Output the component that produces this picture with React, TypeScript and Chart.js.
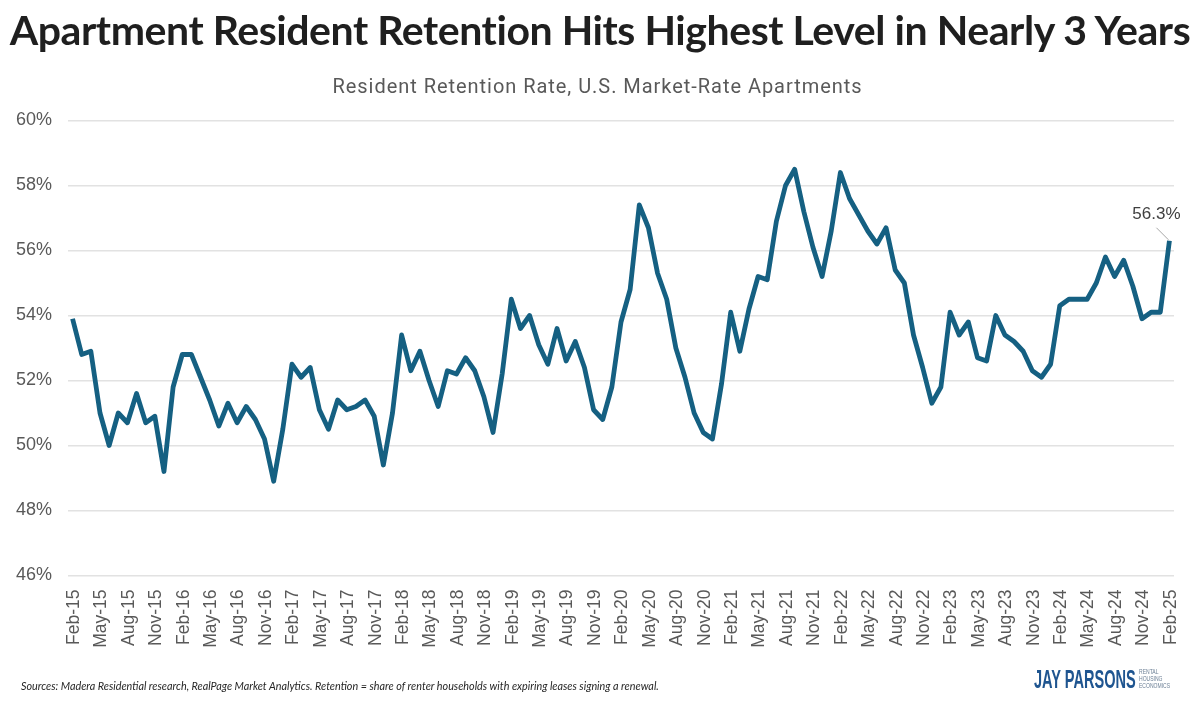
import React, { useEffect, useRef } from "react";
import { Chart, registerables } from "chart.js";

Chart.register(...registerables);

const TITLE = "Apartment Resident Retention Hits Highest Level in Nearly 3 Years";
const SUBTITLE = "Resident Retention Rate, U.S. Market-Rate Apartments";
const FOOTNOTE = "Sources: Madera Residential research, RealPage Market Analytics. Retention = share of renter households with expiring leases signing a renewal.";
const MONTHS = ["Jan", "Feb", "Mar", "Apr", "May", "Jun", "Jul", "Aug", "Sep", "Oct", "Nov", "Dec"];
const YEARS = ["15", "16", "17", "18", "19", "20", "21", "22", "23", "24", "25"];
const labels: string[] = [];
YEARS.forEach((y) => MONTHS.forEach((m) => labels.push(`${m}-${y}`)));
const categories = labels.slice(1, 122);

const v2015 = [53.9, 52.8, 52.9, 51.0, 50.0, 51.0, 50.7, 51.6, 50.7, 50.9, 49.2];
const v2016 = [51.8, 52.8, 52.8, 52.1, 51.4, 50.6, 51.3, 50.7, 51.2, 50.8, 50.2, 48.9];
const v2017 = [50.5, 52.5, 52.1, 52.4, 51.1, 50.5, 51.4, 51.1, 51.2, 51.4, 50.9, 49.4];
const v2018 = [51.0, 53.4, 52.3, 52.9, 52.0, 51.2, 52.3, 52.2, 52.7, 52.3, 51.5, 50.4];
const v2019 = [52.2, 54.5, 53.6, 54.0, 53.1, 52.5, 53.6, 52.6, 53.2, 52.4, 51.1, 50.8];
const v2020 = [51.8, 53.8, 54.8, 57.4, 56.7, 55.3, 54.5, 53.0, 52.1, 51.0, 50.4, 50.2];
const v2021 = [51.9, 54.1, 52.9, 54.2, 55.2, 55.1, 56.9, 58.0, 58.5, 57.2, 56.1, 55.2];
const v2022 = [56.6, 58.4, 57.6, 57.1, 56.6, 56.2, 56.7, 55.4, 55.0, 53.4, 52.4, 51.3];
const v2023 = [51.8, 54.1, 53.4, 53.8, 52.7, 52.6, 54.0, 53.4, 53.2, 52.9, 52.3, 52.1];
const v2024 = [52.5, 54.3, 54.5, 54.5, 54.5, 55.0, 55.8, 55.2, 55.7, 54.9, 53.9, 54.1];
const v2025 = [54.1, 56.3];
const retention = [...v2015, ...v2016, ...v2017, ...v2018, ...v2019, ...v2020, ...v2021, ...v2022, ...v2023, ...v2024, ...v2025];

const lastLabel = {
  id: "lastLabel",
  afterDatasetsDraw(chart: any) {
    const { ctx, scales } = chart;
    const i = retention.length - 1;
    const x = scales.x.getPixelForValue(i);
    const y = scales.y.getPixelForValue(retention[i]);
    ctx.save();
    ctx.strokeStyle = "#a6a6a6";
    ctx.lineWidth = 1;
    ctx.beginPath();
    ctx.moveTo(x - 1, y - 1);
    ctx.lineTo(x - 13, y - 13);
    ctx.stroke();
    ctx.fillStyle = "#404040";
    ctx.font = "17px 'Liberation Sans'";
    ctx.textAlign = "center";
    ctx.textBaseline = "middle";
    ctx.fillText("56.3%", x - 13, y - 26);
    ctx.restore();
  },
};

export default function App() {
  const ref = useRef<HTMLCanvasElement>(null);
  useEffect(() => {
    document.body.style.margin = "0";
    document.body.style.background = "#fff";
    const chart = new Chart(ref.current!, {
      type: "line",
      data: {
        labels: categories,
        datasets: [
          {
            label: "Retention",
            data: retention,
            borderColor: "#156082",
            borderWidth: 4.8,
            pointRadius: 0,
            tension: 0,
            borderJoinStyle: "round",
          },
        ],
      },
      options: {
        animation: false,
        responsive: false,
        layout: { padding: { top: 120.5, right: 26, left: 0, bottom: 0 } },
        plugins: {
          legend: { display: false },
          tooltip: { enabled: false },
          title: { display: false },
          subtitle: { display: false },
        },
        scales: {
          x: {
            offset: true,
            afterFit(s: any) {
              s.height = 125.5;
            },
            grid: { display: false },
            border: { display: false },
            ticks: {
              autoSkip: false,
              minRotation: 90,
              maxRotation: 90,
              padding: 6,
              labelOffset: 1.5,
              color: "#595959",
              font: { family: "Liberation Sans", size: 17.5 },
              callback(_v: any, i: number) {
                return i % 3 === 0 ? categories[i] : "";
              },
            },
          },
          y: {
            min: 46,
            max: 60,
            afterFit(s: any) {
              s.width = 68;
            },
            grid: { color: "#e2e2e2", lineWidth: 1.5, drawTicks: false },
            border: { display: false },
            ticks: {
              stepSize: 2,
              padding: 16,
              color: "#595959",
              font: { family: "Liberation Sans", size: 18 },
              callback: (v: any) => `${v}%`,
            },
          },
        },
      },
      plugins: [lastLabel],
    } as any);
    return () => chart.destroy();
  }, []);

  return (
    <div style={{ position: "relative", width: 1200, height: 701, overflow: "hidden" }}>
      <canvas ref={ref} width={1200} height={701} style={{ display: "block" }} />
      <div
        style={{
          position: "absolute",
          left: 0,
          width: 1200,
          top: 5,
          textAlign: "center",
          fontFamily: "Lato",
          fontWeight: "bold",
          fontSize: 41,
          letterSpacing: "-0.44px",
          lineHeight: "50px",
          fontVariantLigatures: "none",
          color: "#1f1f1f",
          whiteSpace: "nowrap",
        }}
      >
        {TITLE}
      </div>
      <div
        style={{
          position: "absolute",
          left: 0,
          width: 1195,
          top: 73,
          textAlign: "center",
          fontFamily: "Roboto",
          fontSize: 20,
          lineHeight: "26px",
          letterSpacing: "0.96px",
          color: "#595959",
          whiteSpace: "nowrap",
        }}
      >
        {SUBTITLE}
      </div>
      <div
        style={{
          position: "absolute",
          left: 21,
          top: 679,
          fontFamily: "Lato",
          fontStyle: "italic",
          fontSize: 10.8,
          color: "#262626",
          whiteSpace: "nowrap",
        }}
      >
        {FOOTNOTE}
      </div>
      <div
        style={{
          position: "absolute",
          left: 1034,
          top: 664,
          fontFamily: "'Liberation Sans'",
          fontWeight: "bold",
          fontSize: 26.5,
          lineHeight: "30px",
          color: "#1f5590",
          whiteSpace: "nowrap",
          transform: "scaleX(0.55)",
          transformOrigin: "left top",
        }}
      >
        JAY PARSONS
      </div>
      <div
        style={{
          position: "absolute",
          left: 1139,
          top: 668,
          fontFamily: "'Liberation Sans'",
          fontSize: 7,
          lineHeight: "7px",
          color: "#6b7f95",
          whiteSpace: "nowrap",
          transform: "scaleX(0.72)",
          transformOrigin: "left top",
        }}
      >
        RENTAL
        <br />
        HOUSING
        <br />
        ECONOMICS
      </div>
    </div>
  );
}
